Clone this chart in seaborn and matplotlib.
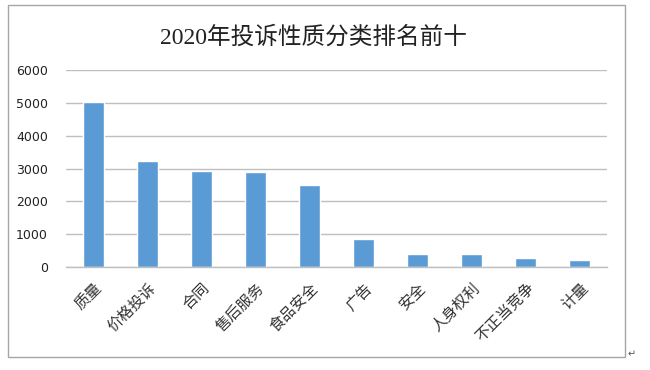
import matplotlib
matplotlib.use("Agg")
import matplotlib.pyplot as plt
import seaborn as sns
import pandas as pd
from matplotlib.patches import Rectangle

# data
categories = ["质量", "价格投诉", "合同", "售后服务", "食品安全",
              "广告", "安全", "人身权利", "不正当竞争", "计量"]
counts = [5020, 3230, 2935, 2895, 2490, 866, 387, 385, 265, 225]
yticks = [0, 1000, 2000, 3000, 4000, 5000, 6000]
title = "2020年投诉性质分类排名前十"

sns.set_theme(style="white")
plt.rcParams['font.family'] = ['Noto Sans CJK SC', 'DejaVu Sans']

df = pd.DataFrame({'category': categories, 'count': counts})

fig = plt.figure(figsize=(6.5, 3.7), dpi=100)
fig.patch.set_facecolor("white")
ax = fig.add_axes([66 / 650, 1 - 267 / 370, (607 - 66) / 650, (267 - 70) / 370])

sns.barplot(data=df, x='category', y='count', color="#5B9BD5",
            saturation=1, width=0.39, ax=ax)

ax.set_ylim(0, 6000)
ax.set_xlim(-0.5, len(categories) - 0.5)
ax.set_yticks(yticks)
ax.set_yticklabels([str(v) for v in yticks], fontsize=9,
                   family=['DejaVu Sans'], color="#222222")
ax.yaxis.grid(True, color="#BFBFBF", linewidth=1)
ax.set_axisbelow(True)
for s in ['left', 'right', 'top']:
    ax.spines[s].set_visible(False)
ax.spines['bottom'].set_color("#BFBFBF")
ax.spines['bottom'].set_linewidth(1)
ax.tick_params(axis='both', length=0)
ax.tick_params(axis='y', pad=13)
ax.set_xlabel("")
ax.set_ylabel("")
plt.setp(ax.get_xticklabels(), rotation=45, ha='right', rotation_mode='anchor',
         fontsize=11, color="#333333")
ax.tick_params(axis='x', pad=9)

fig.text(313 / 650, 1 - 37 / 370, title, ha='center', va='center', fontsize=17,
         family=['Liberation Serif', 'Noto Sans CJK SC'], color="#222222")

# outer chart frame
fig.patches.append(Rectangle((8 / 650, 1 - 357 / 370), (625 - 8) / 650, (357 - 5) / 370,
                             transform=fig.transFigure, fill=False,
                             edgecolor="#A6A6A6", linewidth=1))
fig.text(628 / 650, 1 - 354 / 370, "↵", ha='left', va='center', fontsize=7,
         family=['DejaVu Sans'], color="#555555")

fig.savefig("out.png", dpi=100)
